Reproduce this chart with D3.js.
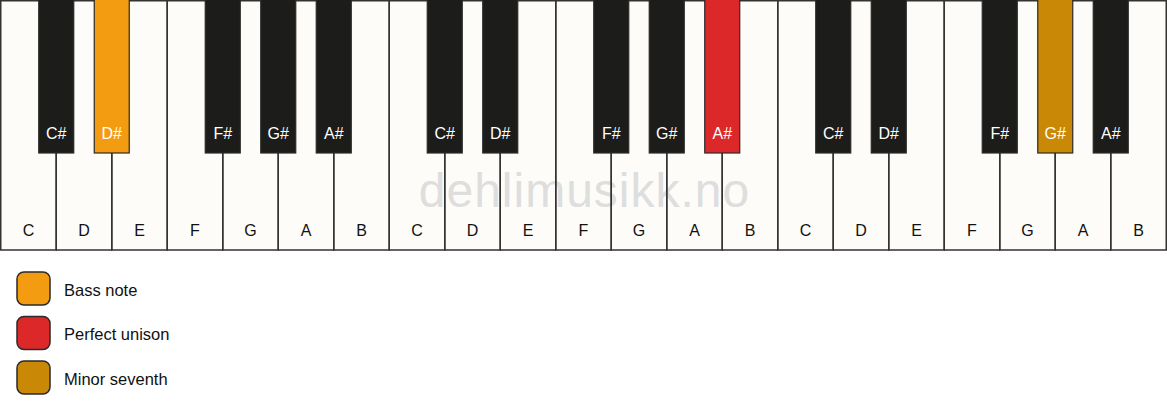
<!DOCTYPE html>
<html>
<head>
<meta charset="utf-8">
<script src="https://cdn.jsdelivr.net/npm/d3@7"></script>
<style>
  html, body { margin: 0; padding: 0; background: #fff; }
  svg { display: block; font-family: "Liberation Sans", Arial, sans-serif; }
</style>
</head>
<body>
<svg id="chart" width="1167" height="417"></svg>
<script>
// keyboard layout
var whiteNotes = ['C', 'D', 'E', 'F', 'G', 'A', 'B'];
var blackNotes = ['C#', 'D#', 'F#', 'G#', 'A#'];
var octaves = [0, 1, 2];

// highlighted keys (octave index counts from the left)
var highlightNotes = ['D#', 'A#', 'G#'];
var highlightOctaves = [0, 1, 2];
var legendLabels = ['Bass note', 'Perfect unison', 'Minor seventh'];
var legendColors = ['#f39c12', '#dc2828', '#c98806'];

var width = 1167;
var svg = d3.select('#chart');

// build key lists
var whiteKeys = [];
octaves.forEach(function (o) {
  whiteNotes.forEach(function (n, i) {
    whiteKeys.push({ note: n, octave: o, index: o * whiteNotes.length + i });
  });
});

var blackKeys = [];
octaves.forEach(function (o) {
  blackNotes.forEach(function (n) {
    var left = whiteNotes.indexOf(n[0]);
    blackKeys.push({ note: n, octave: o, boundary: o * whiteNotes.length + left + 1 });
  });
});

function highlightOf(d) {
  for (var i = 0; i < highlightNotes.length; i++) {
    if (highlightNotes[i] === d.note && highlightOctaves[i] === d.octave) return i;
  }
  return -1;
}

// scales
var x = d3.scaleLinear()
  .domain([0, whiteKeys.length])
  .range([0.75, width - 0.75]);

var keyBottom = 250;
var blackBottom = 153;
var blackWidth = 35;

// white key fills
var white = svg.append('g').attr('class', 'white');
white.selectAll('rect.fill')
  .data(whiteKeys)
  .enter().append('rect')
  .attr('class', 'fill')
  .attr('x', function (d) { return x(d.index); })
  .attr('y', 0.75)
  .attr('width', function (d) { return x(d.index + 1) - x(d.index); })
  .attr('height', keyBottom - 0.75)
  .attr('fill', '#fdfcf8');

// watermark, under the key outlines
svg.append('text')
  .attr('x', width / 2 + 1)
  .attr('y', 207)
  .attr('text-anchor', 'middle')
  .attr('fill', '#dedede')
  .style('font-size', '48px')
  .style('letter-spacing', '1px')
  .text('dehlimusikk.no');

// white key outlines
var outlines = svg.append('g').attr('class', 'outlines');
outlines.selectAll('rect')
  .data(whiteKeys)
  .enter().append('rect')
  .attr('x', function (d) { return x(d.index); })
  .attr('y', 0.75)
  .attr('width', function (d) { return x(d.index + 1) - x(d.index); })
  .attr('height', keyBottom - 0.75)
  .attr('fill', 'none')
  .attr('stroke', '#333')
  .attr('stroke-width', 1.5);

outlines.selectAll('text')
  .data(whiteKeys)
  .enter().append('text')
  .attr('x', function (d) { return (x(d.index) + x(d.index + 1)) / 2; })
  .attr('y', 236)
  .attr('text-anchor', 'middle')
  .attr('fill', '#111')
  .style('font-size', '16px')
  .text(function (d) { return d.note; });

// black keys
var black = svg.append('g').attr('class', 'black');
black.selectAll('rect')
  .data(blackKeys)
  .enter().append('rect')
  .attr('x', function (d) { return x(d.boundary) - blackWidth / 2; })
  .attr('y', -1)
  .attr('width', blackWidth)
  .attr('height', blackBottom + 1)
  .attr('fill', function (d) {
    var h = highlightOf(d);
    return h < 0 ? '#1c1c1a' : legendColors[h];
  })
  .attr('stroke', '#2a2a2a')
  .attr('stroke-width', 1.2);

black.selectAll('text')
  .data(blackKeys)
  .enter().append('text')
  .attr('x', function (d) { return x(d.boundary); })
  .attr('y', 139)
  .attr('text-anchor', 'middle')
  .attr('fill', '#fff')
  .style('font-size', '16px')
  .text(function (d) { return d.note; });

// legend
var legend = svg.append('g').attr('class', 'legend');
var ly = d3.scaleLinear().domain([0, 1]).range([272, 316.5]);

legend.selectAll('rect')
  .data(legendLabels)
  .enter().append('rect')
  .attr('x', 17)
  .attr('y', function (d, i) { return ly(i); })
  .attr('width', 33)
  .attr('height', 33)
  .attr('rx', 7)
  .attr('fill', function (d, i) { return legendColors[i]; })
  .attr('stroke', '#2a2a2a')
  .attr('stroke-width', 1.5);

legend.selectAll('text')
  .data(legendLabels)
  .enter().append('text')
  .attr('x', 64)
  .attr('y', function (d, i) { return ly(i) + 23.5; })
  .attr('fill', '#111')
  .style('font-size', '16.5px')
  .text(function (d) { return d; });
</script>
</body>
</html>
